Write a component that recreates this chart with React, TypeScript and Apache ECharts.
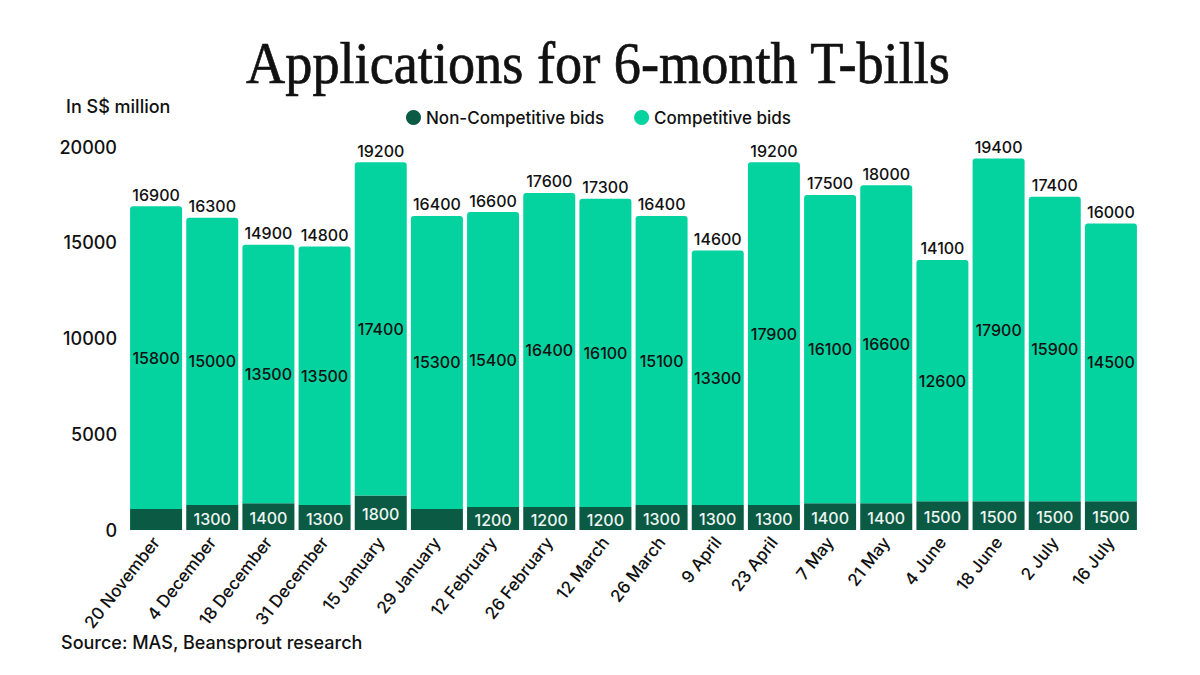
import React, { useEffect, useRef } from "react";
import * as echarts from "echarts";

// Auction dates for the 6-month T-bill
const categories = [
  "20 November", "4 December", "18 December", "31 December", "15 January",
  "29 January", "12 February", "26 February", "12 March", "26 March",
  "9 April", "23 April", "7 May", "21 May", "4 June", "18 June", "2 July", "16 July",
];

// Amounts in S$ million
const nonCompetitive = [1100, 1300, 1400, 1300, 1800, 1100, 1200, 1200, 1200, 1300, 1300, 1300, 1400, 1400, 1500, 1500, 1500, 1500];
const competitive = [15800, 15000, 13500, 13500, 17400, 15300, 15400, 16400, 16100, 15100, 13300, 17900, 16100, 16600, 12600, 17900, 15900, 14500];
const totals = [16900, 16300, 14900, 14800, 19200, 16400, 16600, 17600, 17300, 16400, 14600, 19200, 17500, 18000, 14100, 19400, 17400, 16000];
// Whether the non-competitive amount is printed on the bar
const nonCompetitiveLabelled = [false, true, true, true, true, false, true, true, true, true, true, true, true, true, true, true, true, true];

const yTicks = [0, 5000, 10000, 15000, 20000];

const DARK = "#0a5a44";
const TEAL = "#04d3a0";
const INK = "#111111";
const SANS = "Inter, 'Noto Sans', sans-serif";

export default function App() {
  const ref = useRef<HTMLDivElement>(null);

  useEffect(() => {
    if (!ref.current) return;
    const chart = echarts.init(ref.current, undefined, { renderer: "svg" });
    chart.setOption({
      animation: false,
      backgroundColor: "#ffffff",
      textStyle: { fontFamily: SANS, color: INK },
      legend: {
        top: 104,
        left: 401,
        icon: "circle",
        itemWidth: 15,
        itemHeight: 15,
        itemGap: 30,
        data: ["Non-Competitive bids", "Competitive bids"],
        textStyle: { fontFamily: SANS, fontSize: 17, fontWeight: 500, color: INK },
      },
      graphic: [
        {
          type: "text",
          x: 598,
          y: 33,
          scaleX: 0.92,
          style: {
            text: "Applications for 6-month T-bills",
            font: "normal 59px 'Liberation Serif', 'DejaVu Serif', serif",
            fill: INK,
            stroke: INK,
            lineWidth: 0.7,
            textAlign: "center",
            textVerticalAlign: "top",
          },
        },
        {
          type: "text",
          left: 66,
          top: 97,
          style: { text: "In S$ million", font: `500 18px ${SANS}`, fill: INK },
        },
        {
          type: "text",
          left: 61,
          top: 633,
          style: { text: "Source: MAS, Beansprout research", font: `500 18px ${SANS}`, fill: INK },
        },
      ],
      grid: { left: 128, right: 61, top: 147, bottom: 145, containLabel: false },
      xAxis: {
        type: "category",
        data: categories,
        axisLine: { show: false },
        axisTick: { show: false },
        axisLabel: {
          rotate: 52,
          interval: 0,
          margin: 9,
          fontFamily: SANS,
          fontSize: 17,
          fontWeight: 500,
          color: INK,
        },
      },
      yAxis: {
        type: "value",
        min: yTicks[0],
        max: yTicks[yTicks.length - 1],
        interval: 5000,
        splitLine: { show: false },
        axisLine: { show: false },
        axisTick: { show: false },
        axisLabel: {
          margin: 11,
          fontFamily: SANS,
          fontSize: 18,
          fontWeight: 500,
          color: INK,
          formatter: (v: number) => String(v),
        },
      },
      series: [
        {
          name: "Non-Competitive bids",
          type: "bar",
          stack: "bids",
          barWidth: 52,
          itemStyle: { color: DARK },
          data: nonCompetitive.map((v, i) => ({
            value: v,
            label: { show: nonCompetitiveLabelled[i] },
          })),
          label: {
            show: true,
            position: "inside",
            fontFamily: SANS,
            fontSize: 16,
            fontWeight: 500,
            color: "#eef5f2",
            offset: [0, 1],
          },
        },
        {
          name: "Competitive bids",
          type: "bar",
          stack: "bids",
          barWidth: 52,
          itemStyle: { color: TEAL, borderRadius: [3, 3, 0, 0] },
          data: competitive,
          label: {
            show: true,
            position: "inside",
            fontFamily: SANS,
            fontSize: 16,
            fontWeight: 500,
            color: INK,
          },
        },
        {
          // Bar totals, printed above each stack
          name: "Total",
          type: "scatter",
          data: totals,
          symbol: "circle",
          symbolSize: 1,
          itemStyle: { color: "rgba(0,0,0,0)", opacity: 1 },
          silent: true,
          z: 5,
          label: {
            show: true,
            position: "top",
            distance: 3,
            fontFamily: SANS,
            fontSize: 16,
            fontWeight: 500,
            color: INK,
          },
        },
      ],
    });
    return () => chart.dispose();
  }, []);

  return <div ref={ref} style={{ width: 1200, height: 675, margin: -8 }} />;
}
